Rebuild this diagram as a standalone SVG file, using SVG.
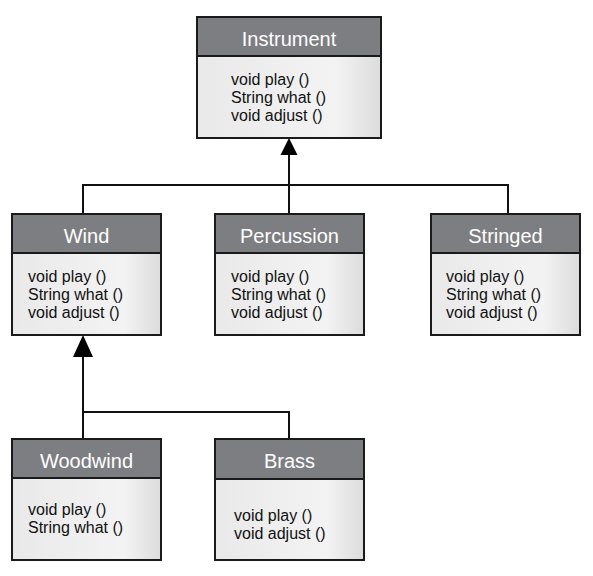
<svg xmlns="http://www.w3.org/2000/svg" width="593" height="576" viewBox="0 0 593 576">
<defs>
<linearGradient id="body" x1="0" y1="0" x2="1" y2="0">
<stop offset="0" stop-color="#e9e9ea"/>
<stop offset="0.75" stop-color="#f3f3f3"/>
<stop offset="1" stop-color="#dcdcdd"/>
</linearGradient>
<style>
.hdr{fill:#7d7e82;stroke:#1a1a1a;stroke-width:2}
.bdy{fill:url(#body);stroke:#1a1a1a;stroke-width:2}
.ttl{font-family:"Liberation Sans",Arial,sans-serif;font-size:20px;fill:#ffffff;text-anchor:middle}
.m{font-family:"Liberation Sans",Arial,sans-serif;font-size:16px;fill:#111111}
.ln{fill:none;stroke:#111111;stroke-width:2}
.ah{fill:#000000}
</style>
</defs>
<rect width="593" height="576" fill="#ffffff"/>
<g id="connectors">
<polyline class="ln" points="83,213 83,185 508,185 508,213"/>
<line class="ln" x1="289" y1="154" x2="289" y2="213"/>
<polygon class="ah" points="289,138 280.5,155 297.5,155"/>
<polyline class="ln" points="83,438 83,412 289,412 289,438"/>
<line class="ln" x1="83" y1="356" x2="83" y2="412"/>
<polygon class="ah" points="83,335 73,357 93,357"/>
</g>
<g id="Instrument">
<rect class="bdy" x="197" y="56" width="184" height="82"/>
<rect class="hdr" x="197" y="17" width="184" height="39"/>
<text class="ttl" x="289" y="46">Instrument</text>
<text class="m" x="231" y="85">void play ()</text>
<text class="m" x="231" y="103">String what ()</text>
<text class="m" x="231" y="121">void adjust ()</text>
</g>
<g id="Wind">
<rect class="bdy" x="12" y="253" width="149" height="82"/>
<rect class="hdr" x="12" y="214" width="149" height="39"/>
<text class="ttl" x="86.5" y="243">Wind</text>
<text class="m" x="28" y="282">void play ()</text>
<text class="m" x="28" y="300">String what ()</text>
<text class="m" x="28" y="318">void adjust ()</text>
</g>
<g id="Percussion">
<rect class="bdy" x="215" y="253" width="149" height="82"/>
<rect class="hdr" x="215" y="214" width="149" height="39"/>
<text class="ttl" x="289.5" y="243">Percussion</text>
<text class="m" x="231" y="282">void play ()</text>
<text class="m" x="231" y="300">String what ()</text>
<text class="m" x="231" y="318">void adjust ()</text>
</g>
<g id="Stringed">
<rect class="bdy" x="431" y="253" width="149" height="82"/>
<rect class="hdr" x="431" y="214" width="149" height="39"/>
<text class="ttl" x="505.5" y="243">Stringed</text>
<text class="m" x="446" y="282">void play ()</text>
<text class="m" x="446" y="300">String what ()</text>
<text class="m" x="446" y="318">void adjust ()</text>
</g>
<g id="Woodwind">
<rect class="bdy" x="12" y="478" width="149" height="82"/>
<rect class="hdr" x="12" y="439" width="149" height="39"/>
<text class="ttl" x="86.5" y="468">Woodwind</text>
<text class="m" x="28" y="515">void play ()</text>
<text class="m" x="28" y="533">String what ()</text>
</g>
<g id="Brass">
<rect class="bdy" x="215" y="479" width="149" height="81"/>
<rect class="hdr" x="215" y="439" width="149" height="40"/>
<text class="ttl" x="289.5" y="468">Brass</text>
<text class="m" x="234" y="521">void play ()</text>
<text class="m" x="234" y="539">void adjust ()</text>
</g>
</svg>
